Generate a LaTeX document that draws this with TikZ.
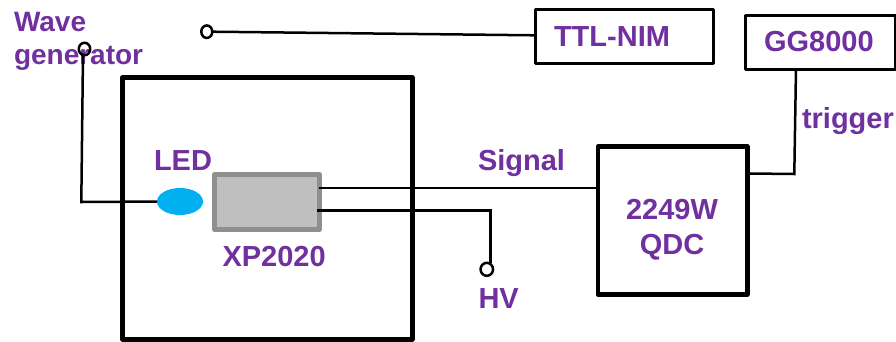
\documentclass[tikz,border=0pt]{standalone}
\usepackage{fontspec}
\setmainfont{Liberation Sans}
\usetikzlibrary{shapes.geometric}
\definecolor{labelviolet}{HTML}{7030A0}
\definecolor{ledblue}{HTML}{00B0F0}
\definecolor{pmtfill}{HTML}{BFBFBF}
\definecolor{pmtedge}{HTML}{8F8F8F}
\tikzset{
	label/.style={anchor=base west,inner sep=0pt,outer sep=0pt,text=labelviolet,font=\fontsize{29}{34}\selectfont\bfseries},
	wavelabel/.style={label,font=\fontsize{28}{34}\selectfont\bfseries},
	wire/.style={line width=2.5pt,line join=miter},
	terminal/.style={draw=black,fill=none,ellipse,line width=2.5pt,inner sep=0pt,outer sep=0pt},
	thinbox/.style={draw=black,rectangle,line width=3pt,inner sep=0pt,outer sep=0pt},
	thickbox/.style={draw=black,rectangle,line width=5pt,inner sep=0pt,outer sep=0pt},
}
\begin{document}
\begin{tikzpicture}[x=1pt,y=-1pt,line join=round]
	\useasboundingbox (0,0) rectangle (896,341);
	\node (dark) at (267.25,208.25) [thickbox,minimum width=289.5pt,minimum height=261.5pt]{};
	\node (pmt) at (267,202) [rectangle,draw=pmtedge,fill=pmtfill,line width=4.5pt,minimum width=105pt,minimum height=55pt,inner sep=0pt,outer sep=0pt]{};
	\node (led) at (180,201.5) [ellipse,fill=ledblue,minimum width=46pt,minimum height=27pt,inner sep=0pt,outer sep=0pt]{};
	\node (ttl) at (624.25,36) [thinbox,minimum width=177.5pt,minimum height=54pt]{};
	\node (gg) at (820,42) [thinbox,minimum width=150pt,minimum height=54pt]{};
	\node (qdc) at (672.5,220.5) [thickbox,line width=4.5pt,minimum width=149.5pt,minimum height=148pt]{};
	% labels
	\node (wavetext) at (14,31) [wavelabel]{Wave};
	\node (gentext) at (14,64) [wavelabel]{generator};
	\node (ledtext) at (154,170) [label]{LED};
	\node (pmttext) at (222.5,266.5) [label]{XP2020};
	\node (ttltext) at (554,46.5) [label]{TTL-NIM};
	\node (ggtext) at (764,51.5) [label]{GG8000};
	\node (trigtext) at (802,128) [label]{trigger};
	\node (sigtext) at (478,170.5) [label]{Signal};
	\node (hvtext) at (478.5,308) [label]{HV};
	\node (qdctext) at (672,219.5) [label,anchor=base]{2249W};
	\node (qdctextb) at (672,254) [label,anchor=base]{QDC};
	% terminals
	\node (wavein) at (84.5,49) [terminal,minimum width=11.5pt,minimum height=12.5pt]{};
	\node (ttlin) at (206.8,31.7) [terminal,minimum width=11pt,minimum height=12.5pt]{};
	\node (hvin) at (486.8,269.3) [terminal,minimum width=12.5pt,minimum height=13pt]{};
	% wires
	\coordinate (wavecorner) at (81.3,202);
	\coordinate (sigout) at (319,188);
	\coordinate (hvout) at (317,210.5);
	\coordinate (hvcorner) at (490.3,210.5);
	\coordinate (hvdown) at (490.3,263);
	\coordinate (trigcorner) at (794.3,174);
	\coordinate (trigtop) at (796,68);
	\coordinate (qdctrig) at (750,173.5);
	\coordinate (wavetop) at (83,54);
	\coordinate (qdcsig) at (597.5,188);
	\coordinate (ttlleft) at (535,35.3);
	\draw[wire] (wavetop)--(wavecorner)--(led.west);
	\draw[wire] (ttlin.east)--(ttlleft);
	\draw[wire] (sigout)--(qdcsig);
	\draw[wire] (hvout)--(hvcorner)--(hvdown);
	\draw[wire] (trigtop)--(trigcorner)--(qdctrig);
\end{tikzpicture}
\end{document}
